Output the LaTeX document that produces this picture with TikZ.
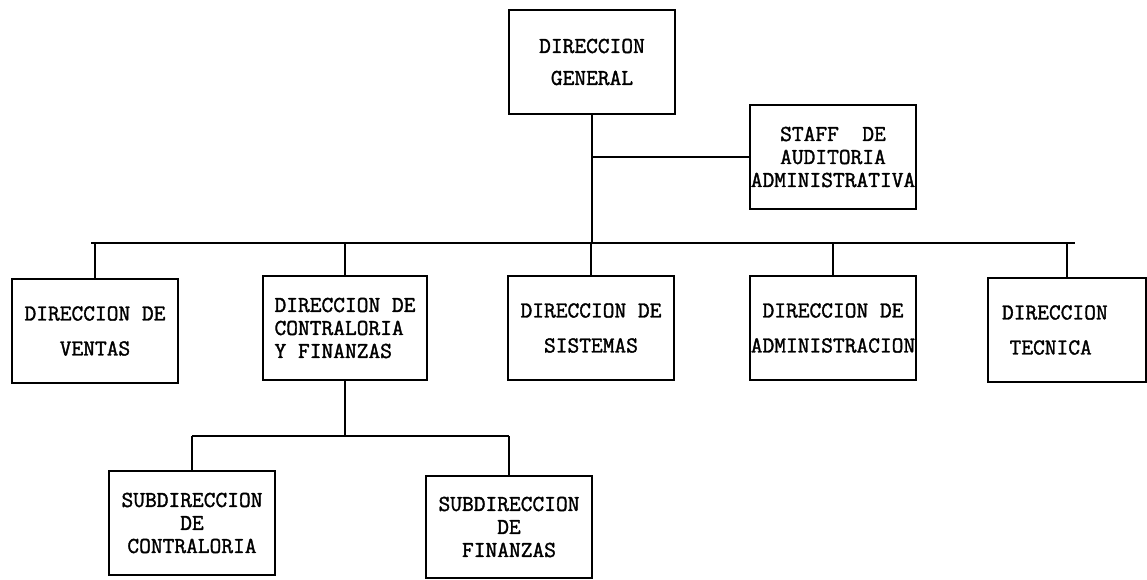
\documentclass[tikz,border=0pt]{standalone}
\usepackage{fontspec}
\newfontfamily\maquina[FakeBold=1.5]{Latin Modern Mono}
\usetikzlibrary{positioning}

\tikzset{
    unidad/.style={draw, line width=1.3pt, inner sep=0pt, align=center,
        minimum width=83pt, minimum height=52pt,
        font=\maquina\fontsize{11.4}{17.5}\selectfont},
    apretada/.style={unidad, font=\maquina\fontsize{11.4}{11.5}\selectfont},
    linea/.style={line width=1.3pt},
}

\begin{document}
\begin{tikzpicture}[x=0.5pt, y=-0.5pt]
    \useasboundingbox (0,0) rectangle (1147,579);
    % primer nivel
    \node[unidad, minimum height=52pt, font=\maquina\fontsize{11.4}{16}\selectfont] (general) at (592,62) {DIRECCION\\GENERAL};
    \node[apretada, align=center] (staff) at (833,157) {STAFF~~DE\\AUDITORIA\\ADMINISTRATIVA};
    % segundo nivel
    \node[unidad] (ventas) at (95,331) {DIRECCION DE\\VENTAS};
    \node[apretada, align=left, minimum width=82pt] (contra) at (345,328) {DIRECCION DE\\CONTRALORIA\\Y FINANZAS};
    \node[unidad] (sistemas) at (591,328) {DIRECCION DE\\SISTEMAS};
    \node[unidad] (admin) at (833,328) {DIRECCION DE\\ADMINISTRACION};
    \node[unidad, minimum width=79pt, text width=65pt, align=left] (tecnica) at (1067,330) {DIRECCION\\~TECNICA};
    % tercer nivel
    \node[apretada] (subcontra) at (192,523) {SUBDIRECCION\\DE\\CONTRALORIA};
    \node[apretada, minimum height=51pt] (subfin) at (509,527) {SUBDIRECCION\\DE\\FINANZAS};

    % lineas de mando
    \coordinate (barraA) at (91,243);
    \coordinate (barraB) at (1075,243);
    \draw[linea] (barraA) -- (barraB);
    \draw[linea] (general.south) -- (general.south |- barraA);
    \draw[linea] (staff.west) -- (staff.west -| general.south);
    \foreach \u in {ventas,contra,sistemas,admin,tecnica}
        \draw[linea] (\u.north) -- (\u.north |- barraA);

    \coordinate (barraC) at (0,436);
    \draw[linea] (contra.south) -- (contra.south |- barraC);
    \draw[linea] (subcontra.north |- barraC) -- (subfin.north |- barraC);
    \draw[linea] (subcontra.north) -- (subcontra.north |- barraC);
    \draw[linea] (subfin.north) -- (subfin.north |- barraC);
\end{tikzpicture}
\end{document}
